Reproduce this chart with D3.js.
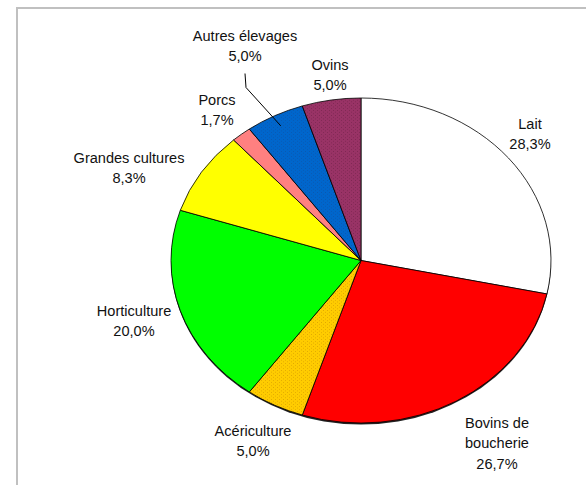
<!DOCTYPE html>
<html>
<head>
<meta charset="utf-8">
<script src="https://cdn.jsdelivr.net/npm/d3@7"></script>
<style>
  html, body { margin: 0; padding: 0; background: #fff; }
  svg { display: block; }
  text { font-family: "Liberation Sans", Arial, sans-serif; }
</style>
</head>
<body>
<svg id="chart" width="586" height="485"></svg>
<script>
// ---- data ----
const categories = ["Lait", "Bovins de boucherie", "Acériculture", "Horticulture",
                    "Grandes cultures", "Porcs", "Autres élevages", "Ovins"];
const values = [28.3, 26.7, 5.0, 20.0, 8.3, 1.7, 5.0, 5.0];
const valueLabels = ["28,3%", "26,7%", "5,0%", "20,0%", "8,3%", "1,7%", "5,0%", "5,0%"];
const labelLines = [["Lait"], ["Bovins de", "boucherie"], ["Acériculture"], ["Horticulture"],
                    ["Grandes cultures"], ["Porcs"], ["Autres élevages"], ["Ovins"]];

// ---- layout / style ----
const colors = ["#ffffff", "#ff0000", "#ffcc00", "#00ff00", "#ffff00", "#ff8080", "#0066cc", "#993366"];
const labelAnchors = [[530, 129], [497, 428], [253, 436], [134, 316], [129, 163], [217, 105], [245, 41], [330, 70]];
const W = 586, H = 485;
const cx = 361, cy = 260.5, rx = 190, ry = 162.5;
const fontSize = 15.5, xSquash = 0.94, lineGap = 20.5;

const svg = d3.select("#chart");

// frame
svg.append("rect")
  .attr("x", 17).attr("y", 8).attr("width", 700).attr("height", 600)
  .attr("fill", "none").attr("stroke", "#c0c0c0").attr("stroke-width", 2);

// patterns
const defs = svg.append("defs");
function dots(id, bg, dot) {
  const p = defs.append("pattern").attr("id", id).attr("patternUnits", "userSpaceOnUse")
    .attr("width", 4).attr("height", 4);
  p.append("rect").attr("width", 4).attr("height", 4).attr("fill", bg);
  p.append("rect").attr("x", 0).attr("y", 0).attr("width", 1).attr("height", 1).attr("fill", dot);
  p.append("rect").attr("x", 2).attr("y", 2).attr("width", 1).attr("height", 1).attr("fill", dot);
}
dots("pAcer", "#ffcc00", "#e0a800");
dots("pOvins", "#993366", "#7e2852");
dots("pAutres", "#0066cc", "#0a58b0");
const fills = colors.slice();
fills[2] = "url(#pAcer)";
fills[6] = "url(#pAutres)";
fills[7] = "url(#pOvins)";

const pie = d3.pie().sort(null).value(d => d);
const arcs = pie(values);
const arc = d3.arc().innerRadius(0).outerRadius(rx);

// shadow edge
svg.append("ellipse")
  .attr("cx", cx).attr("cy", cy + 1.5).attr("rx", rx).attr("ry", ry)
  .attr("fill", "#222");

const g = svg.append("g")
  .attr("transform", `translate(${cx},${cy}) scale(1,${ry / rx})`);

g.selectAll("path.slice")
  .data(arcs)
  .join("path")
  .attr("class", "slice")
  .attr("d", arc)
  .attr("fill", (d, i) => fills[i])
  .attr("stroke", "#000")
  .attr("stroke-width", 0.8)
  .attr("vector-effect", "non-scaling-stroke");

// labels
const lbl = svg.append("g").attr("font-size", fontSize).attr("fill", "#111").attr("text-anchor", "middle");
arcs.forEach((d, i) => {
  const [x, y] = labelAnchors[i];
  const lines = labelLines[i].concat([valueLabels[i]]);
  const t = lbl.append("text")
    .attr("transform", `translate(${x},${y}) scale(${xSquash},1)`);
  lines.forEach((ln, k) => {
    t.append("tspan").attr("x", 0).attr("dy", k === 0 ? 0 : lineGap).text(ln);
  });
});

// leader line for "Autres élevages"
{
  const i = 6;
  const d = arcs[i];
  const mid = (d.startAngle + d.endAngle) / 2;
  const ex = cx + rx * Math.sin(mid) * 0.93;
  const ey = cy - ry * Math.cos(mid) * 0.93;
  const [lx, ly] = labelAnchors[i];
  svg.append("polyline")
    .attr("points", `${lx},${ly + lineGap + 12} ${lx + 1},${ly + lineGap + 26} ${ex},${ey}`)
    .attr("fill", "none").attr("stroke", "#000").attr("stroke-width", 1);
}
</script>
</body>
</html>
